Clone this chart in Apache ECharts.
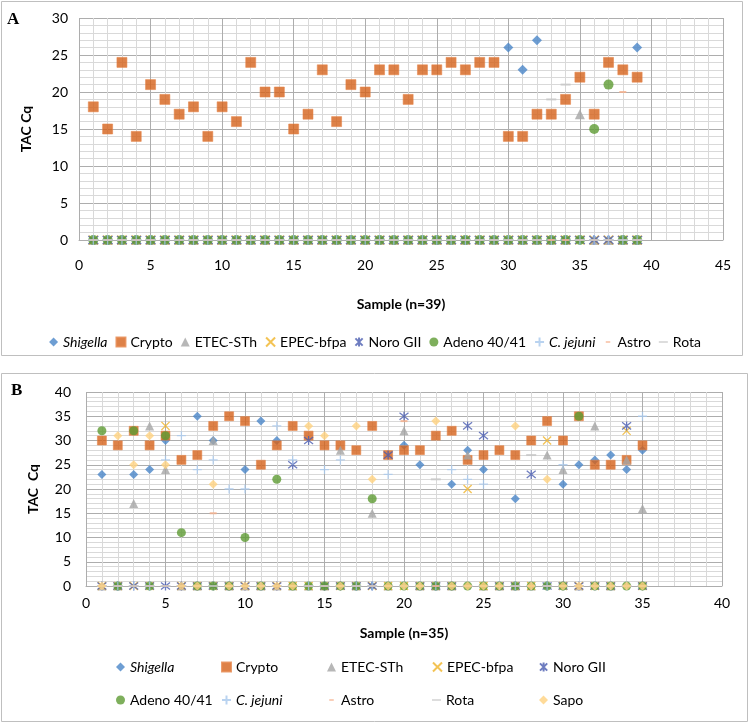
<!DOCTYPE html>
<html>
<head>
<meta charset="utf-8">
<script src="https://cdn.jsdelivr.net/npm/echarts@6/dist/echarts.min.js"></script>
<style>
html,body{margin:0;padding:0;background:#fff;}
#c{width:750px;height:724px;}
</style>
</head>
<body>
<div id="c"></div>
<script>
// ---------- Panel A data (samples 1..39), 0 = not detected ----------
const samplesA = Array.from({length: 39}, (_, i) => i + 1);
const shigellaA = [0,0,0,0,0,0,0,0,0,0, 0,0,0,0,0,0,0,0,0,0, 0,0,0,0,0,0,0,0,0,26, 23,27,0,0,0,0,0,0,26];
const cryptoA   = [18,15,24,14,21,19,17,18,14,18, 16,24,20,20,15,17,23,16,21,20, 23,23,19,23,23,24,23,24,24,14, 14,17,17,19,22,17,24,23,22];
const etecA     = [0,0,0,0,0,0,0,0,0,0, 0,0,0,0,0,0,0,0,0,0, 0,0,0,0,0,0,0,0,0,0, 0,0,0,0,17,0,0,0,0];
const epecA     = [0,0,0,0,0,0,0,0,0,0, 0,0,0,0,0,0,0,0,0,0, 0,0,0,0,0,0,0,0,0,0, 0,0,0,0,0,0,0,0,0];
const noroA     = [0,0,0,0,0,0,0,0,0,0, 0,0,0,0,0,0,0,0,0,0, 0,0,0,0,0,0,0,0,0,0, 0,0,0,0,0,0,0,0,0];
const adenoA    = [0,0,0,0,0,0,0,0,0,0, 0,0,0,0,0,0,0,0,0,0, 0,0,0,0,0,0,0,0,0,0, 0,0,0,0,0,15,21,0,0];
const cjejuniA  = [0,0,0,0,0,0,0,0,0,0, 0,0,0,0,0,0,0,0,0,0, 0,0,0,0,0,0,0,0,0,0, 0,0,0,0,0,0,0,0,0];
const astroA    = [0,0,0,0,0,0,0,0,0,0, 0,0,0,0,0,0,0,0,0,0, 0,0,0,0,0,0,0,0,0,0, 0,0,0,0,0,0,0,20,0];
const rotaA     = [0,0,0,0,0,0,0,0,0,0, 0,0,0,0,0,0,0,0,0,0, 0,0,0,0,0,0,0,0,0,0, 0,0,19,21,0,0,0,0,0];

// ---------- Panel B data (samples 1..35) ----------
const samplesB = Array.from({length: 35}, (_, i) => i + 1);
const shigellaB = [23,0,23,24,30,0,35,30,0,24, 34,30,0,0,0,0,0,0,0,29, 25,0,21,28,24,0,18,0,0,21, 25,26,27,24,28];
const cryptoB   = [30,29,32,29,31,26,27,33,35,34, 25,29,33,31,29,29,28,33,27,28, 28,31,32,26,27,28,27,30,34,30, 35,25,25,26,29];
const etecB     = [0,0,17,33,24,0,0,30,0,0, 0,0,0,0,0,28,0,15,0,32, 0,0,0,27,0,0,0,0,27,24, 0,33,0,26,16];
const epecB     = [0,0,0,0,33,0,0,0,0,0, 0,0,0,0,0,0,0,0,0,0, 0,0,0,20,0,0,0,0,30,0, 0,0,0,32,0];
const noroB     = [0,0,0,0,0,0,0,0,0,0, 0,0,25,30,0,0,0,0,27,35, 0,0,0,33,31,0,0,23,0,0, 0,0,0,33,0];
const adenoB    = [32,0,32,0,31,11,0,0,0,10, 0,22,0,0,0,0,0,18,0,0, 0,0,0,0,0,0,0,0,0,0, 35,0,0,0,0];
const cjejuniB  = [0,0,0,0,26,31,24,26,20,20, 0,33,26,0,24,26,0,0,23,0, 0,0,24,22,21,0,0,0,0,25, 0,0,0,0,35];
const astroB    = [0,0,0,0,0,0,0,15,0,0, 0,0,0,0,0,0,0,0,0,34, 0,0,0,0,0,0,0,0,0,0, 0,0,0,0,0];
const rotaB     = [0,0,0,0,0,0,0,0,0,0, 0,0,0,0,0,0,0,0,0,0, 0,22,0,0,0,0,0,27,0,0, 0,0,0,0,0];
const sapoB     = [0,31,25,31,25,0,0,21,0,0, 0,0,0,33,31,0,33,22,0,0, 0,34,0,0,0,0,33,0,22,0, 0,0,0,0,0];

const xTicksA = [0,5,10,15,20,25,30,35,40,45];
const yTicksA = [0,5,10,15,20,25,30];
const xTicksB = [0,5,10,15,20,25,30,35,40];
const yTicksB = [0,5,10,15,20,25,30,35,40];

// ---------- styles ----------
const X_PATH = 'path://M0,0L10,10M10,0L0,10';
const STAR_PATH = 'path://M1,1L9,9M9,1L1,9M5,0L5,10';
const PLUS_PATH = 'path://M5,0L5,10M0,5L10,5';
const DASH_LONG_ICON = 'path://M0,0h0.05v0.05h-0.05zM0,4.2h10v1.6h-10zM9.95,9.95h0.05v0.05h-0.05z';
const DASH_SHORT_ICON = 'path://M0,0h0.05v0.05h-0.05zM2.5,4.2h5v1.6h-5zM9.95,9.95h0.05v0.05h-0.05z';
const FONT = 'Lato, "Open Sans", sans-serif';

const styles = {
  'Shigella':   {symbol: 'diamond', size: 10, itemStyle: {color: '#4A86C8'}},
  'Crypto':     {symbol: 'rect', size: 10, itemStyle: {color: '#D5621A', borderColor: '#E5844A', borderWidth: 0.7}},
  'ETEC-STh':   {symbol: 'triangle', size: 10, itemStyle: {color: '#A5A5A5'}},
  'EPEC-bfpa':  {symbol: X_PATH, size: 9, itemStyle: {color: 'rgba(0,0,0,0)', borderColor: '#F0B429', borderWidth: 1.3}},
  'Noro GII':   {symbol: STAR_PATH, size: 10, itemStyle: {color: 'rgba(0,0,0,0)', borderColor: '#4A5DB0', borderWidth: 1.3}},
  'Adeno 40/41':{symbol: 'circle', size: 10, itemStyle: {color: '#5E9B33'}},
  'C. jejuni':  {symbol: PLUS_PATH, size: 10, itemStyle: {color: 'rgba(0,0,0,0)', borderColor: '#A8C8EC', borderWidth: 1.3}},
  'Astro':      {symbol: 'rect', size: [7, 2], itemStyle: {color: '#F4AE8A'}},
  'Rota':       {symbol: 'rect', size: [10, 2], itemStyle: {color: '#C6C6C6'}},
  'Sapo':       {symbol: 'diamond', size: 10, itemStyle: {color: '#FFD27F'}}
};
const legendIcons = {'Astro': DASH_SHORT_ICON, 'Rota': DASH_LONG_ICON};

function mk(name, xs, ys, idx, sizeScale) {
  const st = styles[name];
  let size = st.size;
  if (sizeScale && typeof size === 'number') size = size * sizeScale;
  return {
    name: name, type: 'scatter', xAxisIndex: idx, yAxisIndex: idx,
    symbol: st.symbol, symbolSize: size, itemStyle: st.itemStyle,
    data: xs.map((x, i) => [x, ys[i]]),
    emphasis: {disabled: true}, animation: false
  };
}

const seriesA = [
  mk('Shigella', samplesA, shigellaA, 0), mk('Crypto', samplesA, cryptoA, 0),
  mk('ETEC-STh', samplesA, etecA, 0), mk('EPEC-bfpa', samplesA, epecA, 0),
  mk('Noro GII', samplesA, noroA, 0), mk('Adeno 40/41', samplesA, adenoA, 0),
  mk('C. jejuni', samplesA, cjejuniA, 0), mk('Astro', samplesA, astroA, 0),
  mk('Rota', samplesA, rotaA, 0)
];
const seriesB = [
  mk('Shigella', samplesB, shigellaB, 1, 0.9), mk('Crypto', samplesB, cryptoB, 1, 0.9),
  mk('ETEC-STh', samplesB, etecB, 1, 0.9), mk('EPEC-bfpa', samplesB, epecB, 1, 0.9),
  mk('Noro GII', samplesB, noroB, 1, 0.9), mk('Adeno 40/41', samplesB, adenoB, 1, 0.9),
  mk('C. jejuni', samplesB, cjejuniB, 1, 0.9), mk('Astro', samplesB, astroB, 1),
  mk('Rota', samplesB, rotaB, 1), mk('Sapo', samplesB, sapoB, 1, 0.9)
];

const MAJOR = '#ADADAD', MINOR = '#D9D9D9';
function xAx(idx, ticks, margin, nameGap, name) {
  return {
    type: 'value', gridIndex: idx, min: ticks[0], max: ticks[ticks.length - 1], interval: 5,
    name: name, nameLocation: 'middle', nameGap: nameGap,
    nameTextStyle: {fontFamily: FONT, fontWeight: 'bold', fontSize: 14, color: '#000'},
    axisLine: {show: true, onZero: false, lineStyle: {color: MAJOR}},
    axisTick: {show: false},
    axisLabel: {margin: margin, fontFamily: FONT, fontSize: 14, color: '#000'},
    splitLine: {show: true, lineStyle: {color: MAJOR}},
    minorTick: {show: false, splitNumber: 5},
    minorSplitLine: {show: true, lineStyle: {color: MINOR}}
  };
}
function yAx(idx, ticks, margin, name) {
  return {
    type: 'value', gridIndex: idx, min: ticks[0], max: ticks[ticks.length - 1], interval: 5,
    name: name, nameLocation: 'middle', nameGap: 46, nameRotate: 90,
    nameTextStyle: {fontFamily: FONT, fontWeight: 'bold', fontSize: 14, color: '#000'},
    axisLine: {show: false}, axisTick: {show: false},
    axisLabel: {margin: margin, fontFamily: FONT, fontSize: 14, color: '#000'},
    splitLine: {show: true, lineStyle: {color: MAJOR}},
    minorTick: {show: false, splitNumber: 5},
    minorSplitLine: {show: true, lineStyle: {color: MINOR}}
  };
}

const italicNames = {'Shigella': true, 'C. jejuni': true};
const legendText = {
  fontFamily: FONT, fontSize: 14, color: '#000',
  rich: {i: {fontStyle: 'italic', fontFamily: FONT, fontSize: 14, color: '#000'}}
};
const fmt = n => italicNames[n] ? '{i|' + n + '}' : n;
const legItem = n => legendIcons[n] ? {name: n, icon: legendIcons[n]} : {name: n};

const namesA = ['Shigella','Crypto','ETEC-STh','EPEC-bfpa','Noro GII','Adeno 40/41','C. jejuni','Astro','Rota'];
const namesB = [['Shigella','Crypto','ETEC-STh','EPEC-bfpa','Noro GII'],
                ['Adeno 40/41','C. jejuni','Astro','Rota','Sapo']];
const colLeft = [111, 216, 322, 427, 534];
const rowTop = [655, 688];

const legends = [{
  data: namesA.map(legItem), left: 'center', top: 330, orient: 'horizontal',
  itemWidth: 9, itemHeight: 9, itemGap: 8, formatter: fmt, textStyle: legendText,
  selectedMode: false
}];
namesB.forEach((row, r) => row.forEach((n, c) => {
  legends.push({
    data: [legItem(n)], left: colLeft[c], top: rowTop[r], itemWidth: 9, itemHeight: 9,
    formatter: fmt, textStyle: legendText, selectedMode: false
  });
}));

const chart = echarts.init(document.getElementById('c'), null, {renderer: 'canvas'});
chart.setOption({
  animation: false,
  backgroundColor: '#fff',
  graphic: [
    {type: 'rect', shape: {x: 1.5, y: 1.5, width: 741, height: 354}, style: {fill: 'none', stroke: '#BFBFBF', lineWidth: 1}, z: -1},
    {type: 'rect', shape: {x: 1.5, y: 373.5, width: 746, height: 348}, style: {fill: 'none', stroke: '#BFBFBF', lineWidth: 1}, z: -1},
    {type: 'text', left: 7, top: 11, style: {text: 'A', font: 'bold 17px "Liberation Serif", "DejaVu Serif", serif', fill: '#000'}},
    {type: 'text', left: 11, top: 382, style: {text: 'B', font: 'bold 17px "Liberation Serif", "DejaVu Serif", serif', fill: '#000'}}
  ],
  grid: [
    {left: 79, right: 27, top: 18, bottom: 484},
    {left: 86, right: 28, top: 392, bottom: 138}
  ],
  xAxis: [xAx(0, xTicksA, 18, 57, 'Sample (n=39)'), xAx(1, xTicksB, 10, 40, 'Sample (n=35)')],
  yAxis: [yAx(0, yTicksA, 11, 'TAC Cq'), yAx(1, yTicksB, 15, 'TAC  Cq')],
  legend: legends,
  series: seriesA.concat(seriesB)
});
</script>
</body>
</html>
